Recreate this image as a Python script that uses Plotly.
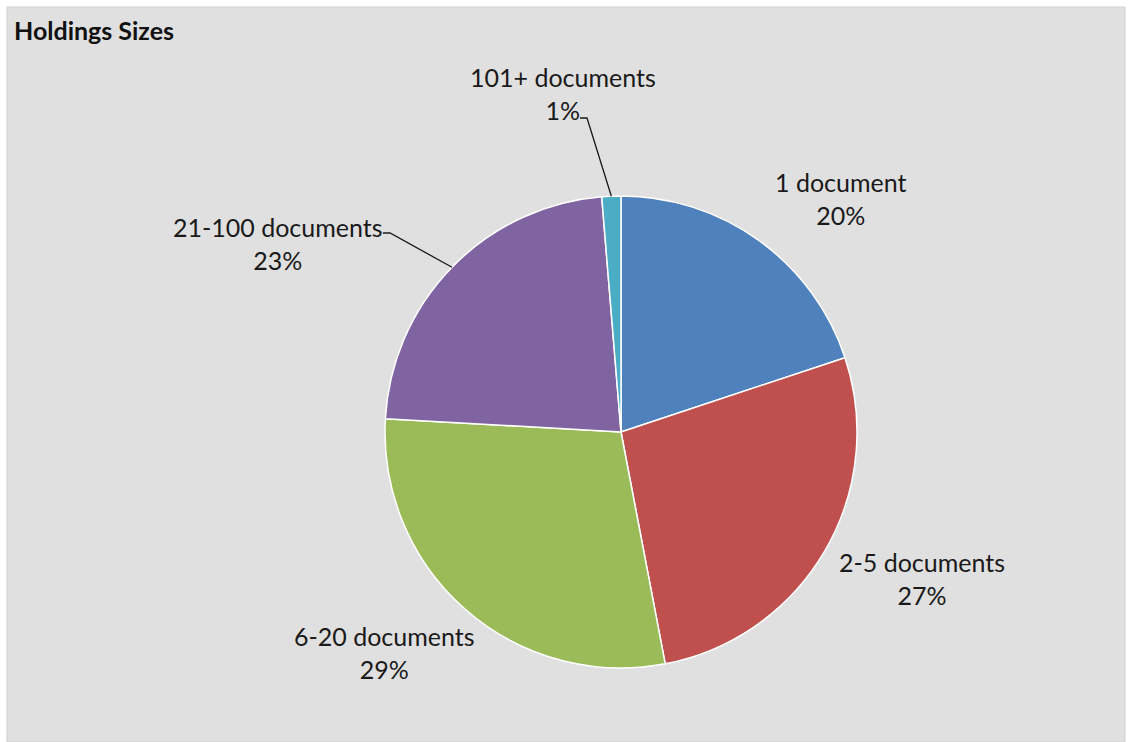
import math
import plotly.graph_objects as go

# Data (share of holdings, %)
labels = ["1 document", "2-5 documents", "6-20 documents", "21-100 documents", "101+ documents"]
values = [19.9, 27.1, 28.9, 22.8, 1.3]
colors = ["#4F81BD", "#C0504D", "#9BBB59", "#8064A2", "#4BACC6"]

W, H = 1132, 742
CX, CY, R = 621, 432, 236  # pie centre / radius in pixels

# label text centres (pixels)
LABEL_POS = {
    "1 document": (840, 198),
    "2-5 documents": (922, 578),
    "6-20 documents": (385, 652),
    "21-100 documents": (278, 243),
    "101+ documents": (563, 94),
}
# leader line start + knee (pixels) for the labels that have one
LEADERS = {
    "21-100 documents": ((383, 233), (390, 233)),
    "101+ documents": ((580, 118), (587, 118)),
}

FONT = "Lato, 'Open Sans', Arial, sans-serif"


def px(x, y):
    return x / W, 1 - y / H


fig = go.Figure(go.Pie(
    labels=labels,
    values=values,
    sort=False,
    direction="clockwise",
    rotation=0,
    textinfo="none",
    marker=dict(colors=colors, line=dict(color="white", width=1.5)),
    domain=dict(x=[(CX - R) / W, (CX + R) / W], y=[1 - (CY + R) / H, 1 - (CY - R) / H]),
    showlegend=False,
    hovertemplate="<b>%{label}</b><br>%{percent}<extra></extra>",
))

total = sum(values)
annotations = []
shapes = [dict(type="rect", xref="paper", yref="paper",
               x0=7 / W, x1=1125 / W, y0=0, y1=1 - 7 / H,
               fillcolor="#E0E0E0", line=dict(color="#CFCFCF", width=1), layer="below")]

cum = 0
for lab, val in zip(labels, values):
    mid = (cum + val / 2) / total * 2 * math.pi
    cum += val
    lx, ly = LABEL_POS[lab]
    pct = round(val / total * 100)
    ax_, ay_ = px(lx, ly)
    annotations.append(dict(
        x=ax_, y=ay_, xref="paper", yref="paper", showarrow=False,
        xanchor="center", yanchor="middle",
        text=f"{lab}<br>{pct}%", align="center",
        font=dict(family=FONT, size=25, color="#1A1A1A"),
    ))
    if lab in LEADERS:
        (sx, sy), (kx, ky) = LEADERS[lab]
        ex, ey = CX + R * math.sin(mid), CY - R * math.cos(mid)
        p0, p1, p2 = px(sx, sy), px(kx, ky), px(ex, ey)
        shapes.append(dict(
            type="path", xref="paper", yref="paper",
            path=f"M {p0[0]} {p0[1]} L {p1[0]} {p1[1]} L {p2[0]} {p2[1]}",
            line=dict(color="#1A1A1A", width=1.3),
        ))

annotations.append(dict(
    x=12 / W, y=1 - 30 / H, xref="paper", yref="paper", showarrow=False,
    xanchor="left", yanchor="middle", text="<b>Holdings Sizes</b>",
    font=dict(family=FONT, size=25, color="#111111"),
))

fig.update_layout(
    width=W, height=H,
    margin=dict(l=0, r=0, t=0, b=0),
    paper_bgcolor="white",
    plot_bgcolor="white",
    annotations=annotations,
    shapes=shapes,
)

fig.write_html("out.html", config={"displayModeBar": False},
               post_script="document.body.style.margin='0';")
